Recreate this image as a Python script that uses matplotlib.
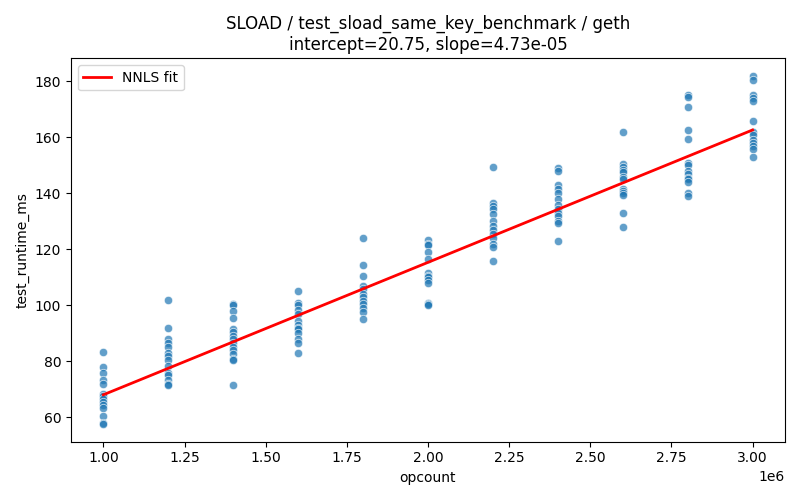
import matplotlib
matplotlib.use("Agg")
import matplotlib.pyplot as plt
import numpy as np

opcounts = [1.0e6, 1.2e6, 1.4e6, 1.6e6, 1.8e6, 2.0e6, 2.2e6, 2.4e6, 2.6e6, 2.8e6, 3.0e6]
runtimes = [
    [83.5, 78, 76, 73.5, 72, 68.5, 67.5, 66.5, 65.5, 64.5, 63.5, 60.5, 58, 57.5],
    [102, 92, 88, 86.5, 85, 83, 82, 80.5, 78.5, 76, 75, 73.5, 72, 71.5],
    [100.5, 100, 98, 95.5, 91.5, 90.5, 89, 88, 86.5, 85, 84, 82.5, 81, 80.5, 71.5],
    [105, 101, 100, 98.5, 97, 94.5, 93, 92, 91.5, 90, 88, 86.5, 83],
    [124, 114.5, 110.5, 107, 106, 104, 103, 101.5, 100.5, 99, 97.5, 95],
    [123.5, 122, 121.5, 119, 116.5, 111.5, 110.5, 110, 109, 108, 101, 100.5, 100],
    [149.5, 136.5, 135.5, 134.5, 132.5, 130, 128.5, 127, 125.5, 124, 122, 121, 116],
    [149, 148, 143, 141.5, 140, 138, 136, 134.5, 133, 132, 130, 129.5, 123],
    [162, 150.5, 149.5, 148.5, 147.5, 146, 145, 141.5, 141, 140, 139.5, 133, 128],
    [175, 174.5, 171, 162.5, 159.5, 151, 150, 148, 147, 145.5, 145, 144, 140, 139],
    [182, 180.5, 175, 174, 173, 166, 162, 161, 159, 158, 157, 156, 153],
]
intercept = 20.75
slope = 4.73e-05

xs, ys = [], []
for x, col in zip(opcounts, runtimes):
    xs += [x] * len(col)
    ys += col

fig, ax = plt.subplots(figsize=(8, 5), dpi=100)
ax.scatter(xs, ys, s=36, color="#1f77b4", alpha=0.7, edgecolors="white", linewidths=0.6)
fx = np.array([opcounts[0], opcounts[-1]])
ax.plot(fx, intercept + slope * fx, color="red", lw=2, label="NNLS fit")
ax.set_xlabel("opcount")
ax.set_ylabel("test_runtime_ms")
ax.set_title("SLOAD / test_sload_same_key_benchmark / geth\nintercept=20.75, slope=4.73e-05")
ax.legend(loc="upper left")
fig.tight_layout()
fig.savefig("out.png")
